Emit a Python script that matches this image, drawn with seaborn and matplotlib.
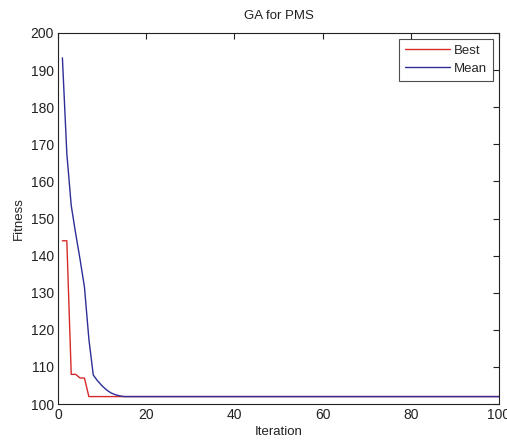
import matplotlib
matplotlib.use("Agg")
import matplotlib.pyplot as plt
import seaborn as sns
import pandas as pd

best_iter = [1, 2, 3, 4, 5, 6, 7, 100]
best_fit = [144, 144, 108, 108, 107, 107, 102, 102]
mean_iter = [1, 2, 3, 4, 5, 6, 7, 8, 9, 10, 11, 12, 13, 14, 15, 100]
mean_fit = [193.3, 167.5, 153.5, 146, 139, 131.5, 117.5, 107.8, 106.2,
            104.9, 103.8, 103.0, 102.5, 102.2, 102, 102]
x_ticks = [0, 20, 40, 60, 80, 100]
y_ticks = [100, 110, 120, 130, 140, 150, 160, 170, 180, 190, 200]

df = pd.concat([
    pd.DataFrame({"Iteration": best_iter, "Fitness": best_fit, "series": "Best"}),
    pd.DataFrame({"Iteration": mean_iter, "Fitness": mean_fit, "series": "Mean"}),
], ignore_index=True)

sns.set_style("white")
plt.rcParams["font.family"] = ["Liberation Sans", "DejaVu Sans"]

fig = plt.figure(figsize=(5.07, 4.41), dpi=100)
ax = fig.add_axes([58 / 507, 1 - 404 / 441, (499 - 58) / 507, (404 - 33) / 441])

sns.lineplot(data=df, x="Iteration", y="Fitness", hue="series",
             palette={"Best": "#d82a2a", "Mean": "#2e2e98"},
             estimator=None, sort=False, linewidth=1.0, ax=ax)

ax.set_xlim(0, 100)
ax.set_ylim(100, 200)
ax.set_xticks(x_ticks)
ax.set_yticks(y_ticks)
ax.tick_params(direction="in", length=4, width=0.8, colors="#222222",
               labelcolor="#222222", labelsize=10, top=True, right=True,
               pad=3)
for s in ax.spines.values():
    s.set_color("#222222")
    s.set_linewidth(0.8)
ax.set_xlabel("Iteration", fontsize=9.5, color="#222222", labelpad=3)
ax.set_ylabel("Fitness", fontsize=9.5, color="#222222", labelpad=4)
ax.set_title("GA for PMS", fontsize=9.5, color="#222222", pad=10)

leg = ax.legend(loc="upper right", fontsize=9.5, frameon=True, fancybox=False,
                handlelength=3.4, borderaxespad=0.45, borderpad=0.45,
                labelspacing=0.4, handletextpad=0.3)
leg.get_frame().set_edgecolor("#222222")
leg.get_frame().set_linewidth(0.8)
leg.set_title(None)

fig.savefig("out.png", dpi=100, facecolor="white")
